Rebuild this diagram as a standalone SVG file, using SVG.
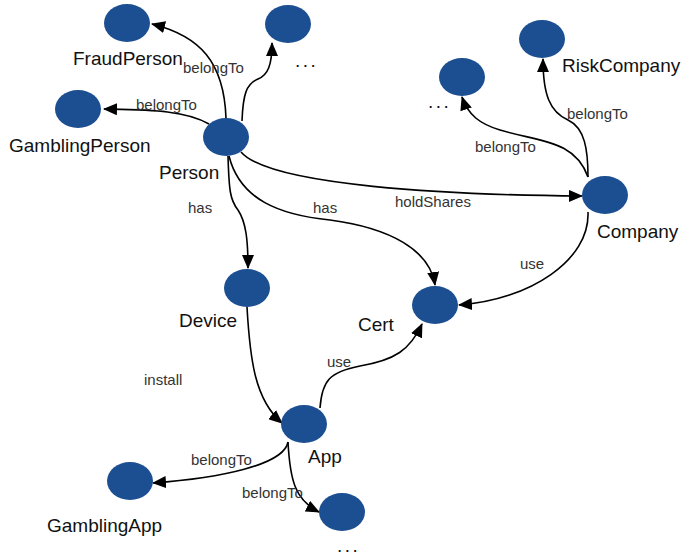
<svg xmlns="http://www.w3.org/2000/svg" width="699" height="556" viewBox="0 0 699 556">
<style>
.node{fill:#1c4f91;}
.nl{font-family:"Liberation Sans",Arial,sans-serif;font-size:19px;fill:#111;}
.el{font-family:"Liberation Sans",Arial,sans-serif;font-size:15px;fill:#333;}
.dots{letter-spacing:2.5px;}
.edge{fill:none;stroke:#000;stroke-width:1.6;marker-end:url(#arr);}
</style>
<defs>
<marker id="arr" markerUnits="userSpaceOnUse" markerWidth="14" markerHeight="12" refX="13" refY="6" orient="auto">
<path d="M0,0 L14,6 L0,12 z" fill="#000"/>
</marker>
</defs>
<rect width="699" height="556" fill="#fff"/>
<g id="connectors">
<path class="edge" d="M226,118 C224,62 200,36 152,24"/>
<path class="edge" d="M242,121 C243,95 246,84 258,79 C268,75 272,65 272,43"/>
<path class="edge" d="M209,124 C185,110 150,110 104,109"/>
<path class="edge" d="M241,152 C270,186 450,195 582,196"/>
<path class="edge" d="M229,156 C240,200 280,215 330,220 C390,228 430,250 435,285"/>
<path class="edge" d="M228,156 C229,190 230,200 238,210 C246,222 248,240 248,268"/>
<path class="edge" d="M588,177 C575,140 540,142 500,130 C480,124 468,115 462,97"/>
<path class="edge" d="M588,177 C588,150 585,128 568,120 C550,112 543,95 543,59"/>
<path class="edge" d="M588,212 C590,260 530,300 459,305"/>
<path class="edge" d="M247,307 C250,360 255,400 282,423"/>
<path class="edge" d="M320,408 C322,380 330,372 360,366 C395,360 410,350 422,324"/>
<path class="edge" d="M288,442 C284,465 220,478 153,483"/>
<path class="edge" d="M288,442 C290,480 295,500 319,512"/>
<text class="el" x="183" y="73">belongTo</text>
<text class="el" x="136" y="110">belongTo</text>
<text class="el" x="188" y="213">has</text>
<text class="el" x="313" y="213">has</text>
<text class="el" x="395" y="207">holdShares</text>
<text class="el" x="475" y="152">belongTo</text>
<text class="el" x="567" y="119">belongTo</text>
<text class="el" x="520" y="269">use</text>
<text class="el" x="327" y="367">use</text>
<text class="el" x="144" y="385">install</text>
<text class="el" x="191" y="465">belongTo</text>
<text class="el" x="242" y="498">belongTo</text>
</g>
<g id="FraudPerson"><ellipse class="node" cx="127" cy="23" rx="23" ry="19"/><text class="nl" x="73" y="65">FraudPerson</text></g>
<g id="PersonOther"><ellipse class="node" cx="288" cy="24" rx="23" ry="19"/><text class="nl dots" x="295" y="67">...</text></g>
<g id="GamblingPerson"><ellipse class="node" cx="78" cy="109" rx="23" ry="19"/><text class="nl" x="9" y="152">GamblingPerson</text></g>
<g id="Person"><ellipse class="node" cx="226" cy="137" rx="23" ry="19"/><text class="nl" x="159" y="179">Person</text></g>
<g id="RiskCompany"><ellipse class="node" cx="542" cy="39" rx="23" ry="19"/><text class="nl" x="562" y="72">RiskCompany</text></g>
<g id="CompanyOther"><ellipse class="node" cx="462" cy="77" rx="23" ry="19"/><text class="nl dots" x="428" y="108">...</text></g>
<g id="Company"><ellipse class="node" cx="605" cy="195" rx="23" ry="19"/><text class="nl" x="597" y="238">Company</text></g>
<g id="Device"><ellipse class="node" cx="247" cy="288" rx="23" ry="19"/><text class="nl" x="179" y="327">Device</text></g>
<g id="Cert"><ellipse class="node" cx="435" cy="305" rx="23" ry="19"/><text class="nl" x="358" y="331">Cert</text></g>
<g id="App"><ellipse class="node" cx="304" cy="424" rx="23" ry="19"/><text class="nl" x="308" y="463">App</text></g>
<g id="GamblingApp"><ellipse class="node" cx="130" cy="481" rx="23" ry="19"/><text class="nl" x="47" y="532">GamblingApp</text></g>
<g id="AppOther"><ellipse class="node" cx="342" cy="512" rx="23" ry="19"/><text class="nl dots" x="337" y="552">...</text></g>
</svg>
